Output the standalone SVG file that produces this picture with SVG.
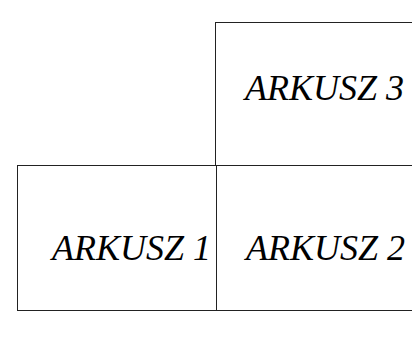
<svg xmlns="http://www.w3.org/2000/svg" width="412" height="344" viewBox="0 0 412 344">
<style>
.sheet{fill:#fff;stroke:#222;stroke-width:1}
.lbl{font-family:"Liberation Serif","Times New Roman",serif;font-style:italic;font-size:36px;fill:#000}
</style>
<rect width="412" height="344" fill="#fff"/>
<g id="arkusz3">
<rect class="sheet" x="215.5" y="22.5" width="210" height="143"/>
<text class="lbl" x="245" y="99.5">ARKUSZ 3</text>
</g>
<g id="arkusz1">
<rect class="sheet" x="17.5" y="165.5" width="199" height="145"/>
<text class="lbl" x="52" y="259.5">ARKUSZ 1</text>
</g>
<g id="arkusz2">
<rect class="sheet" x="216.5" y="165.5" width="210" height="145"/>
<text class="lbl" x="246" y="259.5">ARKUSZ 2</text>
</g>
<g id="connectors"/>
</svg>
